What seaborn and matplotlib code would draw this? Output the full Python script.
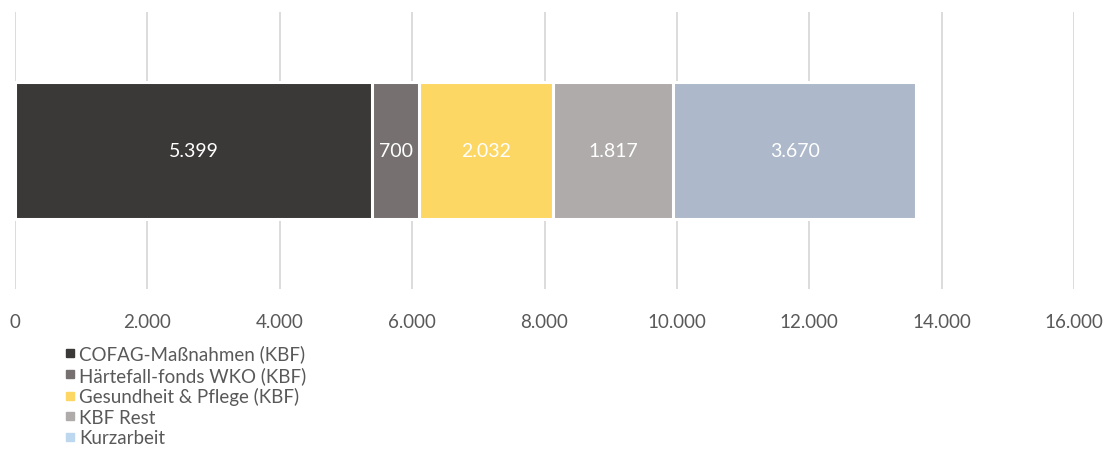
import matplotlib
matplotlib.use("Agg")
import matplotlib.pyplot as plt
from matplotlib.lines import Line2D
from matplotlib.ticker import FuncFormatter
import seaborn as sns
import pandas as pd
import numpy as np

categories = ["COFAG-Maßnahmen (KBF)", "Härtefall-fonds WKO (KBF)", "Gesundheit & Pflege (KBF)", "KBF Rest", "Kurzarbeit"]
values = [5399, 700, 2032, 1817, 3670]
bar_colors = ["#3b3938", "#767170", "#fdd764", "#afabaa", "#adb9ca"]
legend_colors = ["#3b3938", "#767170", "#fdd764", "#afabaa", "#bdd7ee"]
xticks = [0, 2000, 4000, 6000, 8000, 10000, 12000, 14000, 16000]

sns.set_theme(style="white")
plt.rcParams["font.family"] = ["Lato", "DejaVu Sans"]

def de(v):
    return f"{int(v):,}".replace(",", ".")

fig = plt.figure(figsize=(11.11, 4.52), dpi=100)
ax = fig.add_axes([15/1111, 1-290/452, (1074-15)/1111, (290-13)/452])

cum = np.cumsum(values)
for i in reversed(range(len(values))):
    sns.barplot(x=[cum[i]], y=["a"], color=bar_colors[i], orient="h", width=0.495,
                edgecolor="white", linewidth=2.2, ax=ax, saturation=1)

starts = cum - np.array(values)
for s, v in zip(starts, values):
    ax.text(s + v/2, 0, de(v), ha="center", va="center", color="white", fontsize=14)

ax.set_xlim(0, 16000)
ax.set_ylim(0.5, -0.5)
ax.set_xticks(xticks)
ax.xaxis.set_major_formatter(FuncFormatter(lambda v, p: de(v)))
ax.tick_params(axis="x", length=0, pad=17.5, labelsize=13.5, colors="#595959")
ax.set_yticks([])
ax.set_ylabel("")
ax.set_xlabel("")
ax.grid(axis="x", color="#d9d9d9", linewidth=1.3)
ax.set_axisbelow(True)
for sp in ax.spines.values():
    sp.set_visible(False)

handles = [Line2D([0], [0], marker="s", linestyle="none", markersize=5.5,
                  markerfacecolor=c, markeredgecolor=c) for c in legend_colors]
fig.legend(handles, categories, loc="upper left", bbox_to_anchor=(55/1111, 1-336/452),
           frameon=False, fontsize=13.5, labelspacing=0.19, handlelength=0.6,
           handletextpad=0.2, borderpad=0, labelcolor="#595959")

fig.savefig("out.png", dpi=100)
